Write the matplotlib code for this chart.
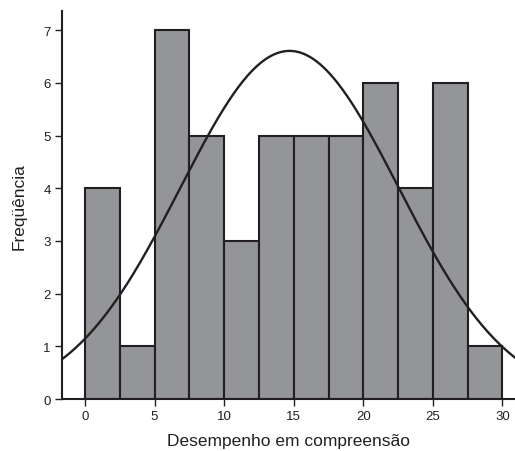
import matplotlib
matplotlib.use('Agg')
import matplotlib.pyplot as plt
import numpy as np

plt.rcParams['font.family'] = ['Liberation Sans', 'DejaVu Sans']

# histogram of the scores (bin width 2.5)
bin_lefts = [0, 2.5, 5, 7.5, 10, 12.5, 15, 17.5, 20, 22.5, 25, 27.5]
counts = [4, 1, 7, 5, 3, 5, 5, 5, 6, 4, 6, 1]
bin_width = 2.5

# fitted normal curve
mean = 14.7
sd = 7.85

x_ticks = [0, 5, 10, 15, 20, 25, 30]
y_ticks = [0, 1, 2, 3, 4, 5, 6, 7]

fig = plt.figure(figsize=(5.15, 4.52), dpi=100)
ax = fig.add_axes([0.1204, 0.115, 0.8796, 0.858])

ax.bar(bin_lefts, counts, width=bin_width, align='edge',
       color='#939598', edgecolor='#231f20', linewidth=1.5, zorder=2)

x_min, x_max = -1.65, 30.9
xs = np.linspace(x_min, x_max, 400)
n = sum(counts)
ys = n * bin_width / (sd * np.sqrt(2 * np.pi)) * np.exp(-0.5 * ((xs - mean) / sd) ** 2)
ax.plot(xs, ys, color='#231f20', linewidth=1.7, zorder=3)

ax.set_xlim(x_min, x_max)
ax.set_ylim(0, 7.36)
ax.set_xticks(x_ticks)
ax.set_yticks(y_ticks)

for side in ['top', 'right']:
    ax.spines[side].set_visible(False)
for side in ['left', 'bottom']:
    ax.spines[side].set_linewidth(1.5)
    ax.spines[side].set_color('#231f20')

ax.tick_params(direction='out', length=5, width=1, colors='#231f20',
               labelsize=9.5, pad=3)

ax.set_xlabel('Desempenho em compreensão', fontsize=12.5, color='#231f20', labelpad=8)
ax.set_ylabel('Freqüência', fontsize=12.5, color='#231f20', labelpad=12)

fig.savefig('out.png', dpi=100)
